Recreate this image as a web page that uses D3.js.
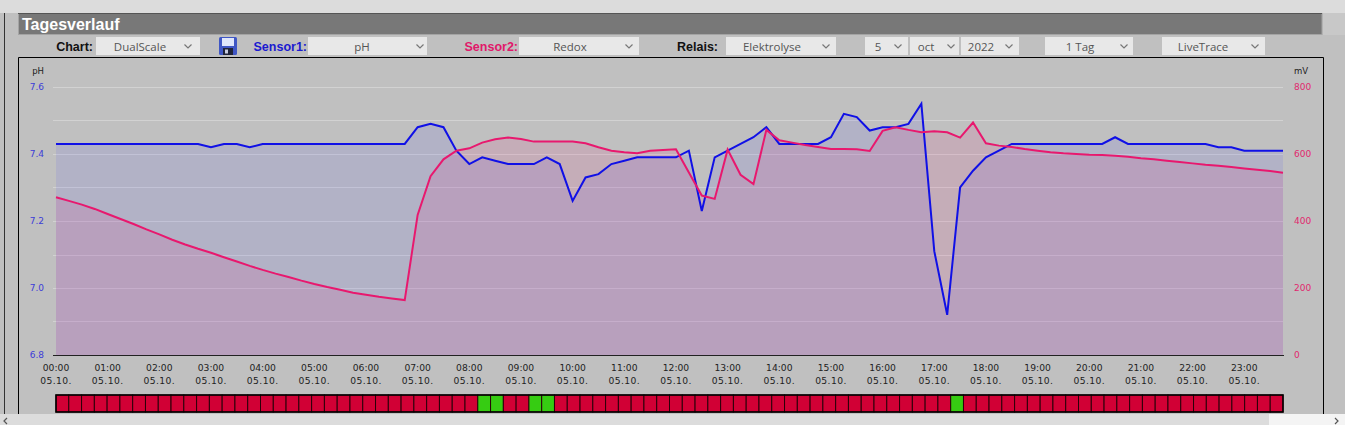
<!DOCTYPE html>
<html><head><meta charset="utf-8">
<script src="https://cdn.jsdelivr.net/npm/d3@7"></script>
<style>body{margin:0;background:#c0c0c0;overflow:hidden}svg{display:block}</style>
</head><body><svg id="c" width="1345" height="425"></svg>
<script>
// ---------- data ----------
const titleText = "Tagesverlauf";
const hourLabels = ["00:00","01:00","02:00","03:00","04:00","05:00","06:00","07:00","08:00","09:00","10:00","11:00",
                    "12:00","13:00","14:00","15:00","16:00","17:00","18:00","19:00","20:00","21:00","22:00","23:00"];
const dateLabel = "05.10.";
const phTicks = [6.8, 7.0, 7.2, 7.4, 7.6];
const mvTicks = [0, 200, 400, 600, 800];
const stepHours = 0.25; // one sample every 15 minutes
const phValues = [
  7.43,7.43,7.43,7.43,7.43,7.43,7.43,7.43,
  7.43,7.43,7.43,7.43,7.42,7.43,7.43,7.42,
  7.43,7.43,7.43,7.43,7.43,7.43,7.43,7.43,
  7.43,7.43,7.43,7.43,7.48,7.49,7.48,7.41,
  7.37,7.39,7.38,7.37,7.37,7.37,7.39,7.37,
  7.26,7.33,7.34,7.37,7.38,7.39,7.39,7.39,
  7.39,7.41,7.23,7.39,7.41,7.43,7.45,7.48,
  7.43,7.43,7.43,7.43,7.45,7.52,7.51,7.47,
  7.48,7.48,7.49,7.55,7.11,6.92,7.30,7.35,
  7.39,7.41,7.43,7.43,7.43,7.43,7.43,7.43,
  7.43,7.43,7.45,7.43,7.43,7.43,7.43,7.43,
  7.43,7.43,7.42,7.42,7.41,7.41,7.41,7.41
];
const redoxValues = [
  471,460,449,436,421,406,391,375,
  360,344,330,317,305,292,279,266,
  254,243,233,222,212,203,195,186,
  180,174,169,164,418,534,584,610,
  617,634,644,649,645,637,637,637,
  637,632,620,610,605,602,610,612,
  614,545,476,466,613,538,510,672,
  641,634,627,621,615,615,614,609,
  669,680,672,665,668,665,649,694,
  632,625,621,615,610,605,602,600,
  598,597,595,592,587,584,580,576,
  572,568,565,561,557,553,549,544
];
const relayStates = [
  0,0,0,0,0,0,0,0,0,0,0,0,
  0,0,0,0,0,0,0,0,0,0,0,0,
  0,0,0,0,0,0,0,0,0,1,1,0,
  0,1,1,0,0,0,0,0,0,0,0,0,
  0,0,0,0,0,0,0,0,0,0,0,0,
  0,0,0,0,0,0,0,0,0,0,1,0,
  0,0,0,0,0,0,0,0,0,0,0,0,
  0,0,0,0,0,0,0,0,0,0,0,0
];
const controlLabels = [
  {text:"Chart:",   color:"#111"},
  {text:"Sensor1:", color:"#1a1ad0"},
  {text:"Sensor2:", color:"#e0186a"},
  {text:"Relais:",  color:"#111"}
];
const selectTexts = ["DualScale","pH","Redox","Elektrolyse","5","oct","2022","1 Tag","LiveTrace"];

// ---------- layout ----------
const W = 1345, H = 425;
const plot = {l:56, r:1283, t:87, b:355};
const labelPos = [93, 307, 518, 718];
const selectPos = [[96,200,140,188],[308,427,362,420],[519,639,570,629],[726,836,772,826],
                   [865,908,878,898],[910,959,926,951],[961,1019,981,1009],[1045,1133,1080,1124],[1162,1265,1203,1255]];
const blue = "#1010e6", pink = "#e8186e";

const svg = d3.select("#c");
svg.append("rect").attr("width",W).attr("height",H).attr("fill","#c0c0c0");
svg.append("rect").attr("width",W).attr("height",13).attr("fill","#dcdcdc");
svg.append("rect").attr("x",1323).attr("y",13).attr("width",W-1323).attr("height",22).attr("fill","#c8c8c8");

// title bar
svg.append("rect").attr("x",18.5).attr("y",13.5).attr("width",1303.5).attr("height",21)
  .attr("fill","#787878").attr("stroke","#a4a4a4").attr("stroke-width",1);
svg.append("line").attr("x1",18).attr("x2",1322).attr("y1",13.5).attr("y2",13.5).attr("stroke","#555");
svg.append("text").attr("x",22).attr("y",30).text(titleText)
  .attr("font-family","Liberation Sans, Arial, sans-serif").attr("font-weight","bold")
  .attr("font-size",16).attr("fill","#fff");

// outer lines
svg.append("line").attr("x1",4.5).attr("x2",4.5).attr("y1",13).attr("y2",414).attr("stroke","#333");
svg.append("path").attr("d","M18.5,414V57.5H1323.5V414").attr("fill","none").attr("stroke","#000");

// controls
controlLabels.forEach((c,i)=>{
  svg.append("text").attr("x",labelPos[i]).attr("y",51).attr("text-anchor","end").text(c.text)
    .attr("font-family","Liberation Sans, Arial, sans-serif").attr("font-weight","bold")
    .attr("font-size",12.5).attr("fill",c.color);
});
selectTexts.forEach((t,i)=>{
  const [x0,x1,tx,cx] = selectPos[i];
  svg.append("rect").attr("x",x0).attr("y",37).attr("width",x1-x0).attr("height",18).attr("fill","#e8e8e8");
  svg.append("text").attr("x",tx).attr("y",51).attr("text-anchor","middle").text(t)
    .attr("font-family","Open Sans, Noto Sans, sans-serif").attr("font-size",11.5).attr("fill","#555");
  svg.append("path").attr("d",`M${cx-3.5},44.5L${cx},48L${cx+3.5},44.5`).attr("fill","none")
    .attr("stroke","#777").attr("stroke-width",1.2);
});
// floppy icon
const fl = svg.append("g").attr("transform","translate(219,37)");
fl.append("rect").attr("width",18).attr("height",18).attr("rx",1.5).attr("fill","#3f56c4");
fl.append("rect").attr("x",3).attr("y",1).attr("width",12).attr("height",8).attr("fill","#dfe6fb");
fl.append("rect").attr("x",4).attr("y",11).attr("width",10).attr("height",7).attr("fill","#20243a");
fl.append("rect").attr("x",6).attr("y",12.5).attr("width",3).attr("height",4).attr("fill","#c9cde0");

// scales
const x = d3.scaleLinear().domain([0, (phValues.length-1)*stepHours]).range([plot.l, plot.r]);
const yPh = d3.scaleLinear().domain([6.8, 7.6]).range([plot.b, plot.t]);
const yMv = d3.scaleLinear().domain([0, 800]).range([plot.b, plot.t]);

// gridlines
const g = svg.append("g");
yPh.ticks(8).filter(v=>v>6.85).forEach(v=>{
  g.append("line").attr("x1",53).attr("x2",plot.r).attr("y1",Math.round(yPh(v))+0.5).attr("y2",Math.round(yPh(v))+0.5)
    .attr("stroke","#d2d2d2").attr("stroke-width",1);
});

// areas
const areaPh = d3.area().x((d,i)=>x(i*stepHours)).y0(plot.b).y1(d=>yPh(d));
const areaMv = d3.area().x((d,i)=>x(i*stepHours)).y0(plot.b).y1(d=>yMv(d));
svg.append("path").datum(phValues).attr("d",areaPh).attr("fill","rgba(60,60,255,0.10)");
svg.append("path").datum(redoxValues).attr("d",areaMv).attr("fill","rgba(240,20,120,0.11)");

// lines
const linePh = d3.line().x((d,i)=>x(i*stepHours)).y(d=>yPh(d));
const lineMv = d3.line().x((d,i)=>x(i*stepHours)).y(d=>yMv(d));
svg.append("path").datum(phValues).attr("d",linePh).attr("fill","none").attr("stroke",blue).attr("stroke-width",2).attr("stroke-linejoin","miter");
svg.append("path").datum(redoxValues).attr("d",lineMv).attr("fill","none").attr("stroke",pink).attr("stroke-width",2);

// bottom axis line
svg.append("line").attr("x1",53).attr("x2",plot.r+1).attr("y1",plot.b+0.5).attr("y2",plot.b+0.5).attr("stroke","#222");

// y labels
const lblFont = "DejaVu Sans, Verdana, sans-serif";
svg.append("text").attr("x",44).attr("y",74).attr("text-anchor","end").text("pH")
  .attr("font-family",lblFont).attr("font-size",8.5).attr("fill","#222");
svg.append("text").attr("x",1294).attr("y",74).text("mV")
  .attr("font-family",lblFont).attr("font-size",8.5).attr("fill","#222");
phTicks.forEach(v=>{
  svg.append("text").attr("x",44).attr("y",yPh(v)+3).attr("text-anchor","end").text(v.toFixed(1))
    .attr("font-family",lblFont).attr("font-size",9).attr("fill","#3c3cd8");
});
mvTicks.forEach(v=>{
  svg.append("text").attr("x",1294).attr("y",yMv(v)+3).text(v)
    .attr("font-family",lblFont).attr("font-size",9).attr("fill","#e0286e");
});
// x labels
hourLabels.forEach((h,i)=>{
  svg.append("text").attr("x",x(i)).attr("y",370.5).attr("text-anchor","middle").text(h)
    .attr("font-family",lblFont).attr("font-size",9.2).attr("fill","#222");
  svg.append("text").attr("x",x(i)).attr("y",384).attr("text-anchor","middle").text(dateLabel)
    .attr("font-family",lblFont).attr("font-size",9.2).attr("fill","#222").attr("letter-spacing",0.4);
});

// relay bar
const band = d3.scaleBand().domain(d3.range(relayStates.length)).range([plot.l, plot.r]);
svg.append("g").selectAll("rect").data(relayStates).join("rect")
  .attr("x",(d,i)=>band(i)).attr("y",395).attr("width",band.bandwidth()).attr("height",17)
  .attr("fill",d=>d ? "#36cc12" : "#d10035").attr("stroke","#2a0008").attr("stroke-width",1);
svg.append("rect").attr("x",plot.l).attr("y",395).attr("width",plot.r-plot.l).attr("height",17)
  .attr("fill","none").attr("stroke","#000").attr("stroke-width",1.5);

// scrollbar
svg.append("rect").attr("x",0).attr("y",414).attr("width",W).attr("height",11).attr("fill","#dcdcdc");
svg.append("rect").attr("x",1269).attr("y",414).attr("width",W-1269).attr("height",11).attr("fill","#f4f4f4");
svg.append("path").attr("d","M7,418L4,421L7,424").attr("fill","none").attr("stroke","#555").attr("stroke-width",1.2);
svg.append("path").attr("d","M1335,418L1338,421L1335,424").attr("fill","none").attr("stroke","#555").attr("stroke-width",1.2);
</script></body></html>
